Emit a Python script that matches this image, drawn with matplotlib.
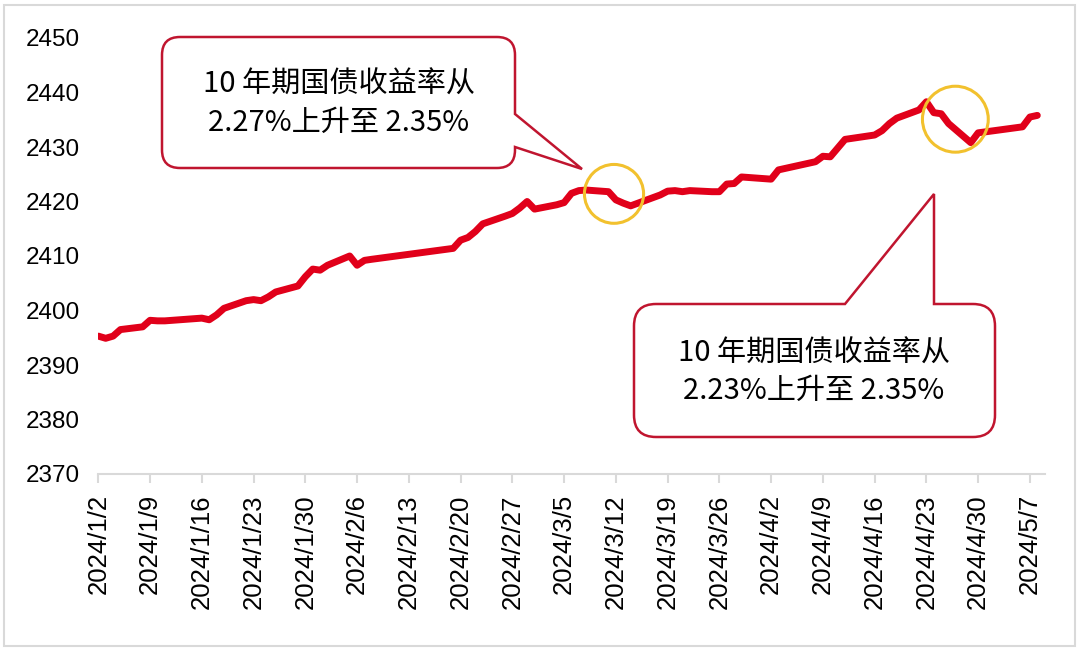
import matplotlib
matplotlib.use('Agg')
import matplotlib.pyplot as plt
from matplotlib.path import Path
from matplotlib.patches import PathPatch, Ellipse, Rectangle
import pandas as pd

# data
dates = ['2024-01-02', '2024-01-03', '2024-01-04', '2024-01-05', '2024-01-08',
         '2024-01-09', '2024-01-10', '2024-01-11', '2024-01-12', '2024-01-15',
         '2024-01-16', '2024-01-17', '2024-01-18', '2024-01-19', '2024-01-22',
         '2024-01-23', '2024-01-24', '2024-01-25', '2024-01-26', '2024-01-29',
         '2024-01-30', '2024-01-31', '2024-02-01', '2024-02-02', '2024-02-05',
         '2024-02-06', '2024-02-07', '2024-02-08', '2024-02-19', '2024-02-20',
         '2024-02-21', '2024-02-22', '2024-02-23', '2024-02-26', '2024-02-27',
         '2024-02-28', '2024-02-29', '2024-03-01', '2024-03-04', '2024-03-05',
         '2024-03-06', '2024-03-07', '2024-03-08', '2024-03-11', '2024-03-12',
         '2024-03-13', '2024-03-14', '2024-03-15', '2024-03-18', '2024-03-19',
         '2024-03-20', '2024-03-21', '2024-03-22', '2024-03-25', '2024-03-26',
         '2024-03-27', '2024-03-28', '2024-03-29', '2024-04-01', '2024-04-02',
         '2024-04-03', '2024-04-08', '2024-04-09', '2024-04-10', '2024-04-11',
         '2024-04-12', '2024-04-15', '2024-04-16', '2024-04-17', '2024-04-18',
         '2024-04-19', '2024-04-22', '2024-04-23', '2024-04-24', '2024-04-25',
         '2024-04-26', '2024-04-29', '2024-04-30', '2024-05-06', '2024-05-07',
         '2024-05-08']
values = [2395.3, 2394.9, 2395.3, 2396.5, 2397.0,
          2398.2, 2398.1, 2398.1, 2398.2, 2398.5,
          2398.6, 2398.3, 2399.2, 2400.4, 2401.8,
          2402.0, 2401.8, 2402.5, 2403.4, 2404.5,
          2406.2, 2407.6, 2407.4, 2408.3, 2410.0,
          2408.3, 2409.2, 2409.4, 2411.4, 2412.9,
          2413.4, 2414.5, 2415.9, 2417.3, 2417.8,
          2418.8, 2420.0, 2418.6, 2419.4, 2419.8,
          2421.5, 2422.0, 2422.1, 2421.8, 2420.3,
          2419.7, 2419.2, 2419.7, 2421.2, 2421.9,
          2422.0, 2421.8, 2422.0, 2421.8, 2421.8,
          2423.2, 2423.3, 2424.5, 2424.2, 2424.1,
          2425.8, 2427.3, 2428.3, 2428.2, 2429.8,
          2431.4, 2432.0, 2432.2, 2433.0, 2434.3,
          2435.3, 2436.8, 2438.3, 2436.3, 2436.1,
          2434.3, 2430.8, 2432.6, 2433.7, 2435.5,
          2435.8]

yticks = [2370, 2380, 2390, 2400, 2410, 2420, 2430, 2440, 2450]
note1 = '10 年期国债收益率从\n2.27%上升至 2.35%'
note2 = '10 年期国债收益率从\n2.23%上升至 2.35%'

x = pd.to_datetime(dates)
xticks = pd.date_range('2024-01-02', '2024-05-07', freq='7D')

W, H = 1080, 651
RED = '#E1001A'
EDGE = '#C0152F'
GOLD = '#F2C12E'
GRAY = '#D9D9D9'

fig = plt.figure(figsize=(W / 100, H / 100), dpi=100)
ax = fig.add_axes([98.3 / W, 1 - 474 / H, (1044.7 - 98.3) / W, (474 - 38) / H])

ax.plot(x, values, color=RED, lw=5, solid_capstyle='round', solid_joinstyle='round', zorder=3)

ax.set_xlim(pd.Timestamp('2024-01-02'), pd.Timestamp('2024-05-09'))
ax.set_ylim(2370, 2450)
ax.set_yticks(yticks)
ax.set_yticklabels([str(v) for v in yticks], family='Liberation Sans', fontsize=17.5)
ax.set_xticks(xticks)
ax.set_xticklabels([f'{d.year}/{d.month}/{d.day}' for d in xticks],
                   rotation=90, family='Liberation Sans', fontsize=18.5)
ax.tick_params(axis='y', length=0, pad=13)
ax.tick_params(axis='x', length=6.5, width=1.5, color=GRAY, pad=8)
for s in ['left', 'right', 'top']:
    ax.spines[s].set_visible(False)
ax.spines['bottom'].set_color(GRAY)
ax.spines['bottom'].set_linewidth(1.5)

# yellow circles on the two dips
ax.add_patch(Ellipse((pd.Timestamp('2024-03-11 18:00'), 2421.4), 8.0, 10.8,
                     fill=False, ec=GOLD, lw=2.2, zorder=4))
ax.add_patch(Ellipse((pd.Timestamp('2024-04-26 22:00'), 2435.1), 8.9, 12.1,
                     fill=False, ec=GOLD, lw=2.2, zorder=4))


def callout(x0, y0, x1, y1, r, side, base_a, tip, base_b):
    verts, codes = [], []

    def ln(p):
        verts.append(p)
        codes.append(Path.LINETO)

    def cv(c, p):
        verts.extend([c, p])
        codes.extend([Path.CURVE3, Path.CURVE3])

    verts.append((x0 + r, y0))
    codes.append(Path.MOVETO)
    if side == 'top':
        ln(base_a); ln(tip); ln(base_b)
    ln((x1 - r, y0)); cv((x1, y0), (x1, y0 + r))
    if side == 'right':
        ln(base_a); ln(tip); ln(base_b)
    ln((x1, y1 - r)); cv((x1, y1), (x1 - r, y1))
    ln((x0 + r, y1)); cv((x0, y1), (x0, y1 - r))
    ln((x0, y0 + r)); cv((x0, y0), (x0 + r, y0))
    verts.append((x0 + r, y0))
    codes.append(Path.CLOSEPOLY)
    verts = [(px / W, 1 - py / H) for px, py in verts]
    return PathPatch(Path(verts, codes), transform=fig.transFigure,
                     fc='white', ec=EDGE, lw=1.8, zorder=5)


fig.patches.append(callout(162, 37, 515, 168, 18, 'right', (515, 114), (582, 169), (515, 147)))
fig.patches.append(callout(634, 304, 995, 437, 22, 'top', (845, 304), (934, 194), (934, 304)))

cjk = ['Noto Sans CJK SC', 'DejaVu Sans']
fig.text(339 / W, 1 - 104 / H, note1, ha='center', va='center', family=cjk,
         fontsize=21, linespacing=1.35, zorder=6)
fig.text(814 / W, 1 - 372 / H, note2, ha='center', va='center', family=cjk,
         fontsize=21, linespacing=1.3, zorder=6)

# thin outer frame
fig.patches.append(Rectangle((4 / W, 1 - 646 / H), 1071 / W, 641 / H, transform=fig.transFigure,
                             fill=False, ec=GRAY, lw=1.5))

fig.savefig('out.png', dpi=100)
